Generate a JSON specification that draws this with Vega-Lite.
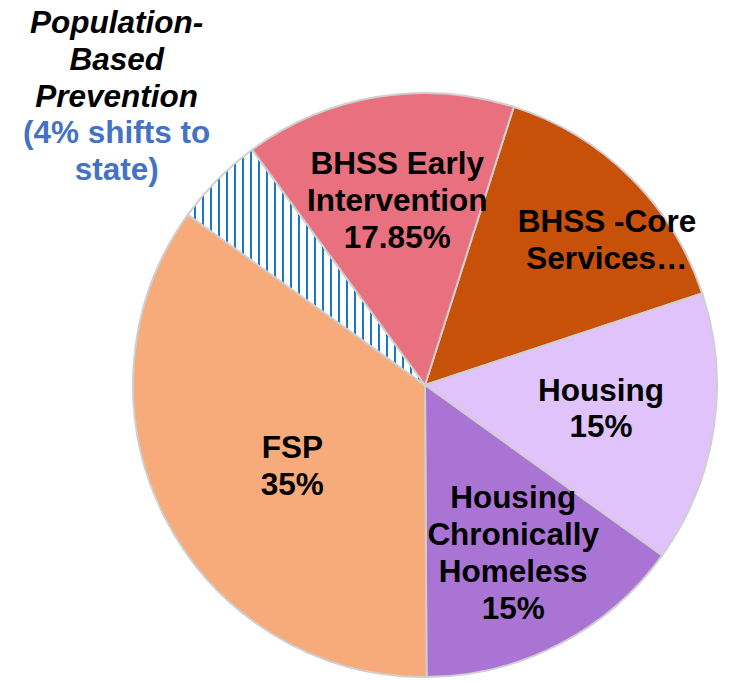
{
  "$schema": "https://vega.github.io/schema/vega-lite/v6.json",
  "width": 584,
  "height": 584,
  "autosize": "none",
  "padding": {"left": 133, "top": 93, "right": 15, "bottom": 4},
  "background": "white",
  "config": {"view": {"stroke": null}},
  "data": {"values": [
    {"cat": "BHSS -Core Services", "value": 15, "order": 1, "label": "BHSS -Core\nServices…"},
    {"cat": "Housing", "value": 15, "order": 2, "label": "Housing\n15%"},
    {"cat": "Housing Chronically Homeless", "value": 15, "order": 3, "label": "Housing\nChronically\nHomeless\n15%"},
    {"cat": "FSP", "value": 35, "order": 4, "label": "FSP\n35%"},
    {"cat": "Population-Based Prevention", "value": 5, "order": 5, "label": "Population-\nBased\nPrevention", "note": "(4% shifts to\nstate)"},
    {"cat": "BHSS Early Intervention", "value": 15, "order": 6, "label": "BHSS Early\nIntervention\n17.85%"}
  ]},
  "encoding": {
    "theta": {"field": "value", "type": "quantitative", "stack": true, "scale": {"range": [0.309, 6.592]}},
    "order": {"field": "order", "type": "quantitative"}
  },
  "layer": [
    {
      "mark": {"type": "arc", "stroke": "#CFCFCF", "strokeWidth": 2},
      "encoding": {
        "color": {
          "condition": {
            "test": "datum.cat === 'Population-Based Prevention'",
            "value": {
              "gradient": "linear", "x1": 0, "y1": 0, "x2": 1, "y2": 0,
              "stops": [
                {"offset": 0, "color": "#ffffff"},
                {"offset": 0.0253, "color": "#ffffff"}, {"offset": 0.0253, "color": "#1A78C8"}, {"offset": 0.0346, "color": "#1A78C8"}, {"offset": 0.0346, "color": "#ffffff"},
                {"offset": 0.0591, "color": "#ffffff"}, {"offset": 0.0591, "color": "#1A78C8"}, {"offset": 0.0684, "color": "#1A78C8"}, {"offset": 0.0684, "color": "#ffffff"},
                {"offset": 0.0928, "color": "#ffffff"}, {"offset": 0.0928, "color": "#1A78C8"}, {"offset": 0.1021, "color": "#1A78C8"}, {"offset": 0.1021, "color": "#ffffff"},
                {"offset": 0.1266, "color": "#ffffff"}, {"offset": 0.1266, "color": "#1A78C8"}, {"offset": 0.1359, "color": "#1A78C8"}, {"offset": 0.1359, "color": "#ffffff"},
                {"offset": 0.1603, "color": "#ffffff"}, {"offset": 0.1603, "color": "#1A78C8"}, {"offset": 0.1696, "color": "#1A78C8"}, {"offset": 0.1696, "color": "#ffffff"},
                {"offset": 0.1941, "color": "#ffffff"}, {"offset": 0.1941, "color": "#1A78C8"}, {"offset": 0.2034, "color": "#1A78C8"}, {"offset": 0.2034, "color": "#ffffff"},
                {"offset": 0.2278, "color": "#ffffff"}, {"offset": 0.2278, "color": "#1A78C8"}, {"offset": 0.2371, "color": "#1A78C8"}, {"offset": 0.2371, "color": "#ffffff"},
                {"offset": 0.2616, "color": "#ffffff"}, {"offset": 0.2616, "color": "#1A78C8"}, {"offset": 0.2709, "color": "#1A78C8"}, {"offset": 0.2709, "color": "#ffffff"},
                {"offset": 0.2954, "color": "#ffffff"}, {"offset": 0.2954, "color": "#1A78C8"}, {"offset": 0.3046, "color": "#1A78C8"}, {"offset": 0.3046, "color": "#ffffff"},
                {"offset": 0.3291, "color": "#ffffff"}, {"offset": 0.3291, "color": "#1A78C8"}, {"offset": 0.3384, "color": "#1A78C8"}, {"offset": 0.3384, "color": "#ffffff"},
                {"offset": 0.3629, "color": "#ffffff"}, {"offset": 0.3629, "color": "#1A78C8"}, {"offset": 0.3722, "color": "#1A78C8"}, {"offset": 0.3722, "color": "#ffffff"},
                {"offset": 0.3966, "color": "#ffffff"}, {"offset": 0.3966, "color": "#1A78C8"}, {"offset": 0.4059, "color": "#1A78C8"}, {"offset": 0.4059, "color": "#ffffff"},
                {"offset": 0.4304, "color": "#ffffff"}, {"offset": 0.4304, "color": "#1A78C8"}, {"offset": 0.4397, "color": "#1A78C8"}, {"offset": 0.4397, "color": "#ffffff"},
                {"offset": 0.4641, "color": "#ffffff"}, {"offset": 0.4641, "color": "#1A78C8"}, {"offset": 0.4734, "color": "#1A78C8"}, {"offset": 0.4734, "color": "#ffffff"},
                {"offset": 0.4979, "color": "#ffffff"}, {"offset": 0.4979, "color": "#1A78C8"}, {"offset": 0.5072, "color": "#1A78C8"}, {"offset": 0.5072, "color": "#ffffff"},
                {"offset": 0.5316, "color": "#ffffff"}, {"offset": 0.5316, "color": "#1A78C8"}, {"offset": 0.5409, "color": "#1A78C8"}, {"offset": 0.5409, "color": "#ffffff"},
                {"offset": 0.5654, "color": "#ffffff"}, {"offset": 0.5654, "color": "#1A78C8"}, {"offset": 0.5747, "color": "#1A78C8"}, {"offset": 0.5747, "color": "#ffffff"},
                {"offset": 0.5992, "color": "#ffffff"}, {"offset": 0.5992, "color": "#1A78C8"}, {"offset": 0.6084, "color": "#1A78C8"}, {"offset": 0.6084, "color": "#ffffff"},
                {"offset": 0.6329, "color": "#ffffff"}, {"offset": 0.6329, "color": "#1A78C8"}, {"offset": 0.6422, "color": "#1A78C8"}, {"offset": 0.6422, "color": "#ffffff"},
                {"offset": 0.6667, "color": "#ffffff"}, {"offset": 0.6667, "color": "#1A78C8"}, {"offset": 0.6759, "color": "#1A78C8"}, {"offset": 0.6759, "color": "#ffffff"},
                {"offset": 0.7004, "color": "#ffffff"}, {"offset": 0.7004, "color": "#1A78C8"}, {"offset": 0.7097, "color": "#1A78C8"}, {"offset": 0.7097, "color": "#ffffff"},
                {"offset": 0.7342, "color": "#ffffff"}, {"offset": 0.7342, "color": "#1A78C8"}, {"offset": 0.7435, "color": "#1A78C8"}, {"offset": 0.7435, "color": "#ffffff"},
                {"offset": 0.7679, "color": "#ffffff"}, {"offset": 0.7679, "color": "#1A78C8"}, {"offset": 0.7772, "color": "#1A78C8"}, {"offset": 0.7772, "color": "#ffffff"},
                {"offset": 0.8017, "color": "#ffffff"}, {"offset": 0.8017, "color": "#1A78C8"}, {"offset": 0.8110, "color": "#1A78C8"}, {"offset": 0.8110, "color": "#ffffff"},
                {"offset": 0.8354, "color": "#ffffff"}, {"offset": 0.8354, "color": "#1A78C8"}, {"offset": 0.8447, "color": "#1A78C8"}, {"offset": 0.8447, "color": "#ffffff"},
                {"offset": 0.8692, "color": "#ffffff"}, {"offset": 0.8692, "color": "#1A78C8"}, {"offset": 0.8785, "color": "#1A78C8"}, {"offset": 0.8785, "color": "#ffffff"},
                {"offset": 0.9030, "color": "#ffffff"}, {"offset": 0.9030, "color": "#1A78C8"}, {"offset": 0.9122, "color": "#1A78C8"}, {"offset": 0.9122, "color": "#ffffff"},
                {"offset": 0.9367, "color": "#ffffff"}, {"offset": 0.9367, "color": "#1A78C8"}, {"offset": 0.9460, "color": "#1A78C8"}, {"offset": 0.9460, "color": "#ffffff"},
                {"offset": 0.9705, "color": "#ffffff"}, {"offset": 0.9705, "color": "#1A78C8"}, {"offset": 0.9797, "color": "#1A78C8"}, {"offset": 0.9797, "color": "#ffffff"},
                {"offset": 1, "color": "#ffffff"}
              ]
            }
          },
          "field": "cat",
          "type": "nominal",
          "scale": {
            "domain": ["BHSS -Core Services", "Housing", "Housing Chronically Homeless", "FSP", "Population-Based Prevention", "BHSS Early Intervention"],
            "range": ["#C75109", "#DFC3FA", "#AA74D4", "#F7AA7A", "#ffffff", "#E8707F"]
          },
          "legend": null
        }
      }
    },
    {
      "mark": {"type": "text", "radius": 233, "dx": 18, "dy": 4, "fontSize": 31.5, "fontWeight": "bold", "font": "Liberation Sans", "lineBreak": "\n", "lineHeight": 36.5, "align": "center", "baseline": "middle", "color": "#000000"},
      "encoding": {"text": {"condition": {"test": "datum.cat === 'BHSS -Core Services'", "field": "label"}, "value": ""}}
    },
    {
      "mark": {"type": "text", "radius": 176, "dx": 2, "dy": -20, "fontSize": 31.5, "fontWeight": "bold", "font": "Liberation Sans", "lineBreak": "\n", "lineHeight": 36.5, "align": "center", "baseline": "middle", "color": "#000000"},
      "encoding": {"text": {"condition": {"test": "datum.cat === 'Housing'", "field": "label"}, "value": ""}}
    },
    {
      "mark": {"type": "text", "radius": 190, "dx": 1, "dy": -55, "fontSize": 31.5, "fontWeight": "bold", "font": "Liberation Sans", "lineBreak": "\n", "lineHeight": 37, "align": "center", "baseline": "middle", "color": "#000000"},
      "encoding": {"text": {"condition": {"test": "datum.cat === 'Housing Chronically Homeless'", "field": "label"}, "value": ""}}
    },
    {
      "mark": {"type": "text", "radius": 155, "dx": 5, "dy": -7, "fontSize": 31.5, "fontWeight": "bold", "font": "Liberation Sans", "lineBreak": "\n", "lineHeight": 37, "align": "center", "baseline": "middle", "color": "#000000"},
      "encoding": {"text": {"condition": {"test": "datum.cat === 'FSP'", "field": "label"}, "value": ""}}
    },
    {
      "mark": {"type": "text", "radius": 184, "dx": 2, "dy": -38, "fontSize": 31.5, "fontWeight": "bold", "font": "Liberation Sans", "lineBreak": "\n", "lineHeight": 37, "align": "center", "baseline": "middle", "color": "#000000"},
      "encoding": {"text": {"condition": {"test": "datum.cat === 'BHSS Early Intervention'", "field": "label"}, "value": ""}}
    },
    {
      "mark": {"type": "text", "radius": 400, "dx": -24, "dy": -80, "fontSize": 31.5, "fontWeight": "bold", "fontStyle": "italic", "font": "Liberation Sans", "lineBreak": "\n", "lineHeight": 37, "align": "center", "baseline": "middle", "color": "#000000"},
      "encoding": {"text": {"condition": {"test": "datum.cat === 'Population-Based Prevention'", "field": "label"}, "value": ""}}
    },
    {
      "mark": {"type": "text", "radius": 400, "dx": -24, "dy": 30, "fontSize": 31.5, "fontWeight": "bold", "font": "Liberation Sans", "lineBreak": "\n", "lineHeight": 37, "align": "center", "baseline": "middle", "color": "#4472C4"},
      "encoding": {"text": {"condition": {"test": "datum.cat === 'Population-Based Prevention'", "field": "note"}, "value": ""}}
    }
  ]
}
